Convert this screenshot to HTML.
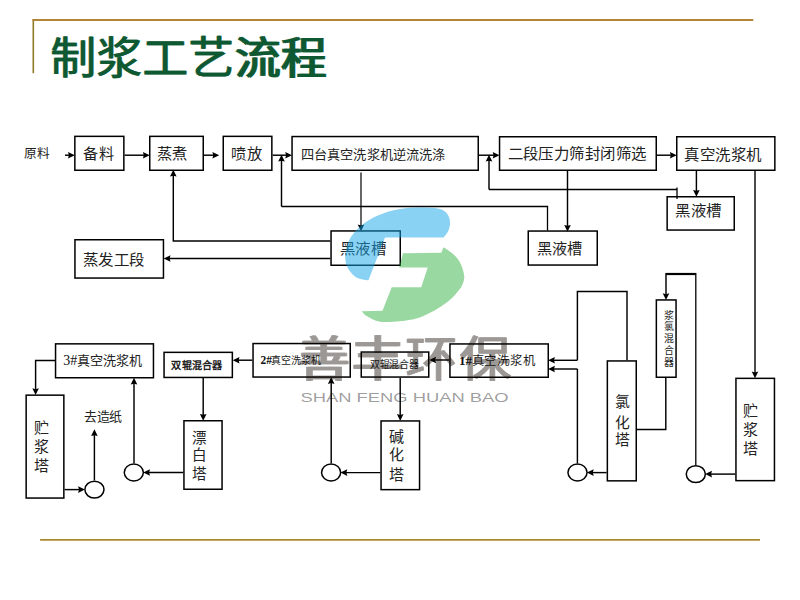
<!DOCTYPE html>
<html lang="zh-CN"><head><meta charset="utf-8"><title>制浆工艺流程</title>
<style>
html,body{margin:0;padding:0;background:#fff;}
body{width:800px;height:600px;overflow:hidden;position:relative;font-family:"Liberation Serif",serif;}
svg{position:absolute;left:0;top:0;}
</style></head><body>
<svg width="800" height="600" viewBox="0 0 800 600">
<rect width="800" height="600" fill="#fff"/>
<line x1="33.3" y1="19" x2="33.3" y2="73.2" stroke="rgb(145,122,38)" stroke-width="1.6"/>
<line x1="32.5" y1="20" x2="753.3" y2="20" stroke="rgb(178,134,54)" stroke-width="1.9"/>
<line x1="40.1" y1="539.9" x2="760" y2="539.9" stroke="rgb(170,136,46)" stroke-width="1.9"/>
<g font-size="44.5" font-family="'Liberation Serif',serif" fill="rgb(14,88,50)" stroke="rgb(14,88,50)" stroke-width="0.3">
<text x="49.6" y="74.3" textLength="276.5" lengthAdjust="spacingAndGlyphs">制浆工艺流程</text>
<text x="51.2" y="74.3" textLength="276.5" lengthAdjust="spacingAndGlyphs">制浆工艺流程</text>
</g>
<rect x="74.85" y="136.35" width="49.00" height="33.90" fill="#fff" stroke="#000" stroke-width="1.5"/>
<rect x="149.75" y="136.35" width="53.50" height="33.90" fill="#fff" stroke="#000" stroke-width="1.5"/>
<rect x="223.25" y="136.35" width="48.60" height="33.90" fill="#fff" stroke="#000" stroke-width="1.5"/>
<rect x="292.05" y="136.55" width="186.20" height="33.70" fill="#fff" stroke="#000" stroke-width="1.5"/>
<rect x="499.55" y="136.75" width="156.70" height="33.50" fill="#fff" stroke="#000" stroke-width="1.5"/>
<rect x="676.75" y="136.75" width="98.10" height="33.50" fill="#fff" stroke="#000" stroke-width="1.5"/>
<rect x="667.15" y="196.75" width="67.10" height="33.30" fill="#fff" stroke="#000" stroke-width="1.5"/>
<rect x="528.25" y="231.05" width="69.00" height="34.00" fill="#fff" stroke="#000" stroke-width="1.5"/>
<rect x="331.05" y="230.95" width="69.20" height="34.30" fill="#fff" stroke="#000" stroke-width="1.5"/>
<rect x="74.95" y="239.75" width="88.50" height="38.30" fill="#fff" stroke="#000" stroke-width="1.5"/>
<path d="M65.00,155.20 L70.00,155.20" fill="none" stroke="#000" stroke-width="1.45" stroke-linejoin="miter" stroke-linecap="butt"/>
<polygon points="74.80,155.20 68.00,158.50 68.90,155.20 68.00,151.90" fill="#000"/>
<path d="M124.60,155.20 L144.90,155.20" fill="none" stroke="#000" stroke-width="1.45" stroke-linejoin="miter" stroke-linecap="butt"/>
<polygon points="149.70,155.20 142.90,158.50 143.80,155.20 142.90,151.90" fill="#000"/>
<path d="M204.00,155.20 L214.40,155.20" fill="none" stroke="#000" stroke-width="1.45" stroke-linejoin="miter" stroke-linecap="butt"/>
<polygon points="219.20,155.20 212.40,158.50 213.30,155.20 212.40,151.90" fill="#000"/>
<path d="M272.60,155.20 L287.20,155.20" fill="none" stroke="#000" stroke-width="1.45" stroke-linejoin="miter" stroke-linecap="butt"/>
<polygon points="292.00,155.20 285.20,158.50 286.10,155.20 285.20,151.90" fill="#000"/>
<path d="M281.50,206.50 L281.50,159.60" fill="none" stroke="#000" stroke-width="1.45" stroke-linejoin="miter" stroke-linecap="butt"/>
<polygon points="281.50,154.80 284.80,161.60 281.50,160.70 278.20,161.60" fill="#000"/>
<path d="M281.50,206.50 L547.50,206.50 L547.50,230.50" fill="none" stroke="#000" stroke-width="1.3" stroke-linejoin="miter" stroke-linecap="butt"/>
<path d="M361.00,172.50 L361.00,226.50" fill="none" stroke="#000" stroke-width="1.2" stroke-linejoin="miter" stroke-linecap="butt"/>
<polygon points="361.00,231.30 357.70,224.50 361.00,225.40 364.30,224.50" fill="#000"/>
<path d="M479.00,155.20 L494.70,155.20" fill="none" stroke="#000" stroke-width="1.45" stroke-linejoin="miter" stroke-linecap="butt"/>
<polygon points="499.50,155.20 492.70,158.50 493.60,155.20 492.70,151.90" fill="#000"/>
<path d="M489.00,189.50 L489.00,159.60" fill="none" stroke="#000" stroke-width="1.45" stroke-linejoin="miter" stroke-linecap="butt"/>
<polygon points="489.00,154.80 492.30,161.60 489.00,160.70 485.70,161.60" fill="#000"/>
<path d="M489.00,189.50 L677.00,189.50" fill="none" stroke="#000" stroke-width="1.3" stroke-linejoin="miter" stroke-linecap="butt"/>
<path d="M677.00,187.50 L677.00,199.00" fill="none" stroke="#000" stroke-width="1.3" stroke-linejoin="miter" stroke-linecap="butt"/>
<path d="M567.50,171.00 L567.50,226.90" fill="none" stroke="#000" stroke-width="1.45" stroke-linejoin="miter" stroke-linecap="butt"/>
<polygon points="567.50,231.70 564.20,224.90 567.50,225.80 570.80,224.90" fill="#000"/>
<path d="M657.00,155.20 L671.90,155.20" fill="none" stroke="#000" stroke-width="1.45" stroke-linejoin="miter" stroke-linecap="butt"/>
<polygon points="676.70,155.20 669.90,158.50 670.80,155.20 669.90,151.90" fill="#000"/>
<path d="M696.40,171.00 L696.40,191.90" fill="none" stroke="#000" stroke-width="1.45" stroke-linejoin="miter" stroke-linecap="butt"/>
<polygon points="696.40,196.70 693.10,189.90 696.40,190.80 699.70,189.90" fill="#000"/>
<path d="M755.00,171.00 L755.00,373.50" fill="none" stroke="#000" stroke-width="1.4" stroke-linejoin="miter" stroke-linecap="butt"/>
<polygon points="755.00,378.30 751.70,371.50 755.00,372.40 758.30,371.50" fill="#000"/>
<path d="M330.30,241.00 L173.30,241.00 L173.30,174.60" fill="none" stroke="#000" stroke-width="1.45" stroke-linejoin="miter" stroke-linecap="butt"/>
<polygon points="173.30,169.80 176.60,176.60 173.30,175.70 170.00,176.60" fill="#000"/>
<path d="M330.30,258.50 L168.50,258.50" fill="none" stroke="#000" stroke-width="1.45" stroke-linejoin="miter" stroke-linecap="butt"/>
<polygon points="163.70,258.50 170.50,255.20 169.60,258.50 170.50,261.80" fill="#000"/>
<rect x="55.55" y="343.85" width="97.90" height="33.90" fill="#fff" stroke="#000" stroke-width="1.5"/>
<rect x="164.05" y="352.35" width="68.30" height="25.10" fill="#fff" stroke="#000" stroke-width="1.5"/>
<rect x="253.05" y="343.55" width="97.20" height="33.50" fill="#fff" stroke="#000" stroke-width="1.5"/>
<rect x="361.25" y="352.05" width="67.50" height="25.00" fill="#fff" stroke="#000" stroke-width="1.5"/>
<rect x="449.95" y="343.95" width="98.30" height="33.30" fill="#fff" stroke="#000" stroke-width="1.5"/>
<rect x="656.35" y="299.95" width="19.70" height="77.30" fill="#fff" stroke="#000" stroke-width="1.5"/>
<rect x="607.35" y="360.95" width="28.90" height="119.90" fill="#fff" stroke="#000" stroke-width="1.5"/>
<rect x="735.95" y="378.35" width="38.50" height="102.30" fill="#fff" stroke="#000" stroke-width="1.5"/>
<rect x="26.15" y="395.15" width="37.70" height="102.90" fill="#fff" stroke="#000" stroke-width="1.5"/>
<rect x="183.95" y="420.75" width="38.10" height="68.50" fill="#fff" stroke="#000" stroke-width="1.5"/>
<rect x="381.05" y="420.95" width="38.50" height="68.70" fill="#fff" stroke="#000" stroke-width="1.5"/>
<ellipse cx="94.45" cy="489.6" rx="9.55" ry="8.45" fill="#fff" stroke="#000" stroke-width="1.5"/>
<ellipse cx="133.8" cy="472.5" rx="9.55" ry="8.45" fill="#fff" stroke="#000" stroke-width="1.5"/>
<ellipse cx="331.1" cy="472.5" rx="9.55" ry="8.45" fill="#fff" stroke="#000" stroke-width="1.5"/>
<ellipse cx="577.5" cy="472.5" rx="9.55" ry="8.45" fill="#fff" stroke="#000" stroke-width="1.5"/>
<ellipse cx="695.8" cy="474.1" rx="9.55" ry="8.45" fill="#fff" stroke="#000" stroke-width="1.5"/>
<path d="M55.00,360.40 L35.60,360.40 L35.60,390.30" fill="none" stroke="#000" stroke-width="1.45" stroke-linejoin="miter" stroke-linecap="butt"/>
<polygon points="35.60,395.10 32.30,388.30 35.60,389.20 38.90,388.30" fill="#000"/>
<path d="M64.60,489.60 L80.10,489.60" fill="none" stroke="#000" stroke-width="1.45" stroke-linejoin="miter" stroke-linecap="butt"/>
<polygon points="84.90,489.60 78.10,492.90 79.00,489.60 78.10,486.30" fill="#000"/>
<path d="M94.40,480.40 L94.40,434.10" fill="none" stroke="#000" stroke-width="1.45" stroke-linejoin="miter" stroke-linecap="butt"/>
<polygon points="94.40,429.30 97.70,436.10 94.40,435.20 91.10,436.10" fill="#000"/>
<path d="M134.00,463.30 L134.00,382.60" fill="none" stroke="#000" stroke-width="1.45" stroke-linejoin="miter" stroke-linecap="butt"/>
<polygon points="134.00,377.80 137.30,384.60 134.00,383.70 130.70,384.60" fill="#000"/>
<path d="M183.20,472.50 L148.00,472.50" fill="none" stroke="#000" stroke-width="1.45" stroke-linejoin="miter" stroke-linecap="butt"/>
<polygon points="143.20,472.50 150.00,469.20 149.10,472.50 150.00,475.80" fill="#000"/>
<path d="M203.20,377.60 L203.20,415.90" fill="none" stroke="#000" stroke-width="1.45" stroke-linejoin="miter" stroke-linecap="butt"/>
<polygon points="203.20,420.70 199.90,413.90 203.20,414.80 206.50,413.90" fill="#000"/>
<path d="M252.30,360.20 L237.50,360.20" fill="none" stroke="#000" stroke-width="1.45" stroke-linejoin="miter" stroke-linecap="butt"/>
<polygon points="232.70,360.20 239.50,356.90 238.60,360.20 239.50,363.50" fill="#000"/>
<path d="M331.20,463.30 L331.20,381.90" fill="none" stroke="#000" stroke-width="1.45" stroke-linejoin="miter" stroke-linecap="butt"/>
<polygon points="331.20,377.10 334.50,383.90 331.20,383.00 327.90,383.90" fill="#000"/>
<path d="M380.30,472.60 L345.30,472.60" fill="none" stroke="#000" stroke-width="1.45" stroke-linejoin="miter" stroke-linecap="butt"/>
<polygon points="340.50,472.60 347.30,469.30 346.40,472.60 347.30,475.90" fill="#000"/>
<path d="M400.20,377.80 L400.20,416.10" fill="none" stroke="#000" stroke-width="1.45" stroke-linejoin="miter" stroke-linecap="butt"/>
<polygon points="400.20,420.90 396.90,414.10 400.20,415.00 403.50,414.10" fill="#000"/>
<path d="M449.20,360.00 L434.10,360.00" fill="none" stroke="#000" stroke-width="1.45" stroke-linejoin="miter" stroke-linecap="butt"/>
<polygon points="429.30,360.00 436.10,356.70 435.20,360.00 436.10,363.30" fill="#000"/>
<path d="M627.00,360.20 L627.00,291.40 L577.40,291.40 L577.40,360.30" fill="none" stroke="#000" stroke-width="1.45" stroke-linejoin="miter" stroke-linecap="butt"/>
<path d="M577.40,360.30 L552.90,360.30" fill="none" stroke="#000" stroke-width="1.45" stroke-linejoin="miter" stroke-linecap="butt"/>
<polygon points="548.10,360.30 554.90,357.00 554.00,360.30 554.90,363.60" fill="#000"/>
<path d="M577.40,463.30 L577.40,369.00" fill="none" stroke="#000" stroke-width="1.45" stroke-linejoin="miter" stroke-linecap="butt"/>
<path d="M577.40,369.00 L552.90,369.00" fill="none" stroke="#000" stroke-width="1.45" stroke-linejoin="miter" stroke-linecap="butt"/>
<polygon points="548.10,369.00 554.90,365.70 554.00,369.00 554.90,372.30" fill="#000"/>
<path d="M606.60,472.60 L591.70,472.60" fill="none" stroke="#000" stroke-width="1.45" stroke-linejoin="miter" stroke-linecap="butt"/>
<polygon points="586.90,472.60 593.70,469.30 592.80,472.60 593.70,475.90" fill="#000"/>
<path d="M637.00,429.50 L665.80,429.50 L665.80,378.00" fill="none" stroke="#000" stroke-width="1.45" stroke-linejoin="miter" stroke-linecap="butt"/>
<path d="M666.00,274.00 L695.80,274.00" fill="none" stroke="#000" stroke-width="2.2" stroke-linejoin="miter" stroke-linecap="butt"/>
<path d="M666.00,273.00 L666.00,295.30" fill="none" stroke="#000" stroke-width="1.45" stroke-linejoin="miter" stroke-linecap="butt"/>
<polygon points="666.00,300.10 662.70,293.30 666.00,294.20 669.30,293.30" fill="#000"/>
<path d="M695.80,273.00 L695.80,464.90" fill="none" stroke="#000" stroke-width="1.3" stroke-linejoin="miter" stroke-linecap="butt"/>
<path d="M735.20,474.10 L710.00,474.10" fill="none" stroke="#000" stroke-width="1.45" stroke-linejoin="miter" stroke-linecap="butt"/>
<polygon points="705.20,474.10 712.00,470.80 711.10,474.10 712.00,477.40" fill="#000"/>
<text x="37.15" y="158.10" font-size="12.5" text-anchor="middle" font-weight="normal" font-family="'Liberation Serif',serif" fill="#222" textLength="26.38" lengthAdjust="spacingAndGlyphs">原料</text>
<text x="98.5" y="159.05" font-size="15" text-anchor="middle" font-weight="normal" font-family="'Liberation Serif',serif" fill="#222" textLength="30.25" lengthAdjust="spacingAndGlyphs">备料</text>
<text x="172.45" y="159.25" font-size="15" text-anchor="middle" font-weight="normal" font-family="'Liberation Serif',serif" fill="#222" textLength="30.55" lengthAdjust="spacingAndGlyphs">蒸煮</text>
<text x="246.64999999999998" y="159.25" font-size="15" text-anchor="middle" font-weight="normal" font-family="'Liberation Serif',serif" fill="#222" textLength="30.55" lengthAdjust="spacingAndGlyphs">喷放</text>
<text x="373.125" y="158.58" font-size="13" text-anchor="middle" font-weight="normal" font-family="'Liberation Serif',serif" fill="#222" textLength="145.16" lengthAdjust="spacingAndGlyphs">四台真空洗浆机逆流洗涤</text>
<text x="577.05" y="159.25" font-size="15" text-anchor="middle" font-weight="normal" font-family="'Liberation Serif',serif" fill="#222" textLength="138.95" lengthAdjust="spacingAndGlyphs">二段压力筛封闭筛选</text>
<text x="723.2" y="159.50" font-size="15" text-anchor="middle" font-weight="normal" font-family="'Liberation Serif',serif" fill="#222" textLength="77.45" lengthAdjust="spacingAndGlyphs">真空洗浆机</text>
<text x="698.3" y="216.10" font-size="15" text-anchor="middle" font-weight="normal" font-family="'Liberation Serif',serif" fill="#222" textLength="46.45" lengthAdjust="spacingAndGlyphs">黑液槽</text>
<text x="559.75" y="254.25" font-size="15" text-anchor="middle" font-weight="normal" font-family="'Liberation Serif',serif" fill="#222" textLength="45.55" lengthAdjust="spacingAndGlyphs">黑液槽</text>
<text x="363.0" y="254.25" font-size="15" text-anchor="middle" font-weight="normal" font-family="'Liberation Serif',serif" fill="#222" textLength="46.25" lengthAdjust="spacingAndGlyphs">黑液槽</text>
<text x="113.95" y="264.75" font-size="15" text-anchor="middle" font-weight="normal" font-family="'Liberation Serif',serif" fill="#222" textLength="61.95" lengthAdjust="spacingAndGlyphs">蒸发工段</text>
<text x="63.2" y="365.3" font-size="14" font-weight="normal" font-family="'Liberation Serif',serif" fill="#111">3#</text>
<text x="109.6" y="365.33" font-size="13" text-anchor="middle" font-weight="normal" font-family="'Liberation Serif',serif" fill="#222" textLength="65.51" lengthAdjust="spacingAndGlyphs">真空洗浆机</text>
<text x="196.75" y="369.30" font-size="10" text-anchor="middle" font-weight="bold" font-family="'Liberation Sans',sans-serif" fill="#222" textLength="50.7" lengthAdjust="spacingAndGlyphs">双辊混合器</text>
<text x="260.4" y="363.9" font-size="11.5" font-weight="bold" font-family="'Liberation Serif',serif" fill="#111">2#</text>
<text x="296.15" y="364.45" font-size="10" text-anchor="middle" font-weight="normal" font-family="'Liberation Serif',serif" fill="#222" textLength="50.0" lengthAdjust="spacingAndGlyphs">真空洗浆机</text>
<text x="394.375" y="368.40" font-size="10" text-anchor="middle" font-weight="normal" font-family="'Liberation Serif',serif" fill="#222" textLength="49.45" lengthAdjust="spacingAndGlyphs">双辊混合器</text>
<text x="458.9" y="365.0" font-size="13" font-weight="bold" font-family="'Liberation Serif',serif" fill="#111">1#</text>
<text x="503.75" y="365.00" font-size="12.5" text-anchor="middle" font-weight="normal" font-family="'Liberation Serif',serif" fill="#222" textLength="64.38" lengthAdjust="spacingAndGlyphs">真空洗浆机</text>
<text x="103.0" y="421.38" font-size="13" text-anchor="middle" font-weight="normal" font-family="'Liberation Serif',serif" fill="#222" textLength="38.91" lengthAdjust="spacingAndGlyphs">去造纸</text>
<text x="669" y="318.60" font-size="10" text-anchor="middle" font-weight="normal" font-family="'Liberation Serif',serif" fill="#222">浆</text>
<text x="669" y="330.10" font-size="10" text-anchor="middle" font-weight="normal" font-family="'Liberation Serif',serif" fill="#222">氯</text>
<text x="669" y="342.10" font-size="10" text-anchor="middle" font-weight="normal" font-family="'Liberation Serif',serif" fill="#222">混</text>
<text x="669" y="354.10" font-size="10" text-anchor="middle" font-weight="normal" font-family="'Liberation Serif',serif" fill="#222">合</text>
<text x="669" y="366.10" font-size="10" text-anchor="middle" font-weight="normal" font-family="'Liberation Serif',serif" fill="#222">器</text>
<text x="622.9" y="406.63" font-size="14.8" text-anchor="middle" font-weight="normal" font-family="'Liberation Serif',serif" fill="#222">氯</text>
<text x="622.9" y="427.83" font-size="14.8" text-anchor="middle" font-weight="normal" font-family="'Liberation Serif',serif" fill="#222">化</text>
<text x="622.9" y="445.33" font-size="14.8" text-anchor="middle" font-weight="normal" font-family="'Liberation Serif',serif" fill="#222">塔</text>
<text x="750.5" y="416.00" font-size="15" text-anchor="middle" font-weight="normal" font-family="'Liberation Serif',serif" fill="#222">贮</text>
<text x="750.5" y="435.40" font-size="15" text-anchor="middle" font-weight="normal" font-family="'Liberation Serif',serif" fill="#222">浆</text>
<text x="750.5" y="453.50" font-size="15" text-anchor="middle" font-weight="normal" font-family="'Liberation Serif',serif" fill="#222">塔</text>
<text x="41" y="433.40" font-size="15" text-anchor="middle" font-weight="normal" font-family="'Liberation Serif',serif" fill="#222">贮</text>
<text x="41" y="451.80" font-size="15" text-anchor="middle" font-weight="normal" font-family="'Liberation Serif',serif" fill="#222">浆</text>
<text x="41" y="470.50" font-size="15" text-anchor="middle" font-weight="normal" font-family="'Liberation Serif',serif" fill="#222">塔</text>
<text x="199.6" y="442.66" font-size="14.6" text-anchor="middle" font-weight="normal" font-family="'Liberation Serif',serif" fill="#222">漂</text>
<text x="199.6" y="460.26" font-size="14.6" text-anchor="middle" font-weight="normal" font-family="'Liberation Serif',serif" fill="#222">白</text>
<text x="199.6" y="479.36" font-size="14.6" text-anchor="middle" font-weight="normal" font-family="'Liberation Serif',serif" fill="#222">塔</text>
<text x="396.3" y="442.40" font-size="15" text-anchor="middle" font-weight="normal" font-family="'Liberation Serif',serif" fill="#222">碱</text>
<text x="396.3" y="460.00" font-size="15" text-anchor="middle" font-weight="normal" font-family="'Liberation Serif',serif" fill="#222">化</text>
<text x="396.3" y="479.90" font-size="15" text-anchor="middle" font-weight="normal" font-family="'Liberation Serif',serif" fill="#222">塔</text>

<path d="M443.5,237.5 C444.25,236.50 446.92,233.75 448.00,231.50 C449.08,229.25 449.88,226.50 450.00,224.00 C450.12,221.50 449.83,218.75 448.75,216.50 C447.67,214.25 446.12,211.95 443.50,210.50 C440.88,209.05 437.75,208.30 433.00,207.80 C428.25,207.30 420.50,207.30 415.00,207.50 C409.50,207.70 405.00,208.12 400.00,209.00 C395.00,209.88 390.00,211.00 385.00,212.75 C380.00,214.50 374.50,216.88 370.00,219.50 C365.50,222.12 361.50,225.00 358.00,228.50 C354.50,232.00 351.12,236.00 349.00,240.50 C346.88,245.00 345.50,251.00 345.25,255.50 C345.00,260.00 345.88,264.00 347.50,267.50 C349.12,271.00 352.50,274.50 355.00,276.50 C357.50,278.50 360.25,278.88 362.50,279.50 C364.75,280.12 367.50,280.12 368.50,280.25 L385,237.5 Z" fill="rgb(21,165,233)" fill-opacity="0.5"/>
<path d="M403,253.2 L441.25,252.75 L443.5,247.2 C445.00,248.25 449.75,250.95 452.50,253.50 C455.25,256.05 458.05,258.83 460.00,262.50 C461.95,266.17 463.82,271.75 464.20,275.50 C464.57,279.25 463.45,282.17 462.25,285.00 C461.05,287.83 459.38,289.75 457.00,292.50 C454.62,295.25 451.75,298.50 448.00,301.50 C444.25,304.50 439.50,307.75 434.50,310.50 C429.50,313.25 423.75,316.22 418.00,318.00 C412.25,319.78 406.33,320.58 400.00,321.20 C393.67,321.82 385.55,322.57 380.00,321.70 C374.45,320.83 369.75,317.75 366.70,316.00 C363.65,314.25 362.53,312.00 361.70,311.20 L382.5,310.8 L391.7,287.3 L421.2,287.3 L427.75,267.5 L399.2,267.5 Z" fill="rgb(53,177,69)" fill-opacity="0.5"/>


<g opacity="0.42" font-family="'Liberation Sans',sans-serif" font-size="47.5" text-anchor="middle" fill="rgb(20,12,6)" stroke="rgb(20,12,6)" stroke-width="0.7">
<text transform="translate(323.05,376.3) scale(1.09,1)">善</text>
<text transform="translate(324.65,376.3) scale(1.09,1)">善</text>
<text transform="translate(377.05,376.3) scale(1.09,1)">丰</text>
<text transform="translate(378.65,376.3) scale(1.09,1)">丰</text>
<text transform="translate(430.95,376.3) scale(1.09,1)">环</text>
<text transform="translate(432.55,376.3) scale(1.09,1)">环</text>
<text transform="translate(484.95,376.3) scale(1.09,1)">保</text>
<text transform="translate(486.55,376.3) scale(1.09,1)">保</text>
</g>
<text x="404.5" y="402.4" font-size="13.5" text-anchor="middle" font-family="'Liberation Sans',sans-serif" fill="#000" fill-opacity="0.4" textLength="208" lengthAdjust="spacingAndGlyphs">SHAN FENG HUAN BAO</text>

</svg>
</body></html>
